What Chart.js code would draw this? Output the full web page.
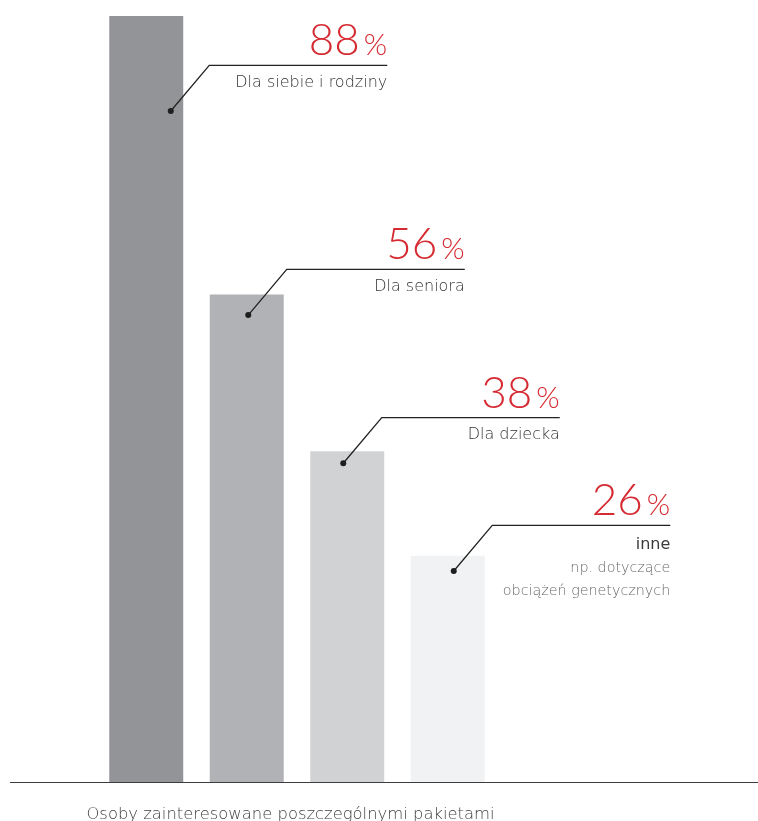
<!DOCTYPE html>
<html>
<head>
<meta charset="utf-8">
<script src="https://cdn.jsdelivr.net/npm/chart.js@4/dist/chart.umd.min.js"></script>
<style>
  html, body { margin: 0; padding: 0; background: #fff; }
</style>
</head>
<body>
<canvas id="chart" width="758" height="821"></canvas>
<script>
// Package interest, percent of respondents
const categories = ['Dla siebie i rodziny', 'Dla seniora', 'Dla dziecka', 'inne'];
const shares = [88, 56, 38, 26];
const notes = [[], [], [], ['np. dotyczące', 'obciążeń genetycznych']];
const axisTitle = 'Osoby zainteresowane poszczególnymi pakietami';

const barColors = ['#939497', '#b1b2b5', '#d1d2d4', '#f1f2f3'];
// where each callout dot sits relative to the top centre of its bar (px)
const calloutDot = [{ dx: 24.5, dy: 95 }, { dx: 1.5, dy: 20.5 }, { dx: -4, dy: 12 }, { dx: 6, dy: 15.3 }];

const TEXT_FONT = '"DejaVu Sans"';
const NUM_FONT = 'Lato';

const baseline = {
  id: 'baseline',
  afterDatasetsDraw(chart) {
    const { ctx } = chart;
    const y = Math.round(chart.scales.y.getPixelForValue(0)) + 0.5;
    ctx.save();
    ctx.strokeStyle = '#3c3c3c';
    ctx.lineWidth = 1.2;
    ctx.beginPath();
    ctx.moveTo(10, y);
    ctx.lineTo(chart.width, y);
    ctx.stroke();
    // axis caption under the baseline
    ctx.font = `200 16.4px ${TEXT_FONT}`;
    ctx.fillStyle = '#3f3f3f';
    ctx.textAlign = 'center';
    ctx.textBaseline = 'alphabetic';
    ctx.fillText(axisTitle, 290.5, y + 36);
    ctx.restore();
  }
};

const callouts = {
  id: 'callouts',
  afterDatasetsDraw(chart) {
    const { ctx } = chart;
    const meta = chart.getDatasetMeta(0);
    meta.data.forEach((bar, i) => {
      const off = calloutDot[i];
      const x0 = bar.x + off.dx, y0 = bar.y + off.dy;
      const x1 = x0 + 38.5, y1 = y0 - 45.7;
      const x2 = x1 + 178;
      ctx.save();
      ctx.strokeStyle = '#222222';
      ctx.lineWidth = 1.3;
      ctx.beginPath();
      ctx.moveTo(x0, y0);
      ctx.lineTo(x1, y1);
      ctx.lineTo(x2, y1);
      ctx.stroke();
      ctx.fillStyle = '#1e1e1e';
      ctx.beginPath();
      ctx.arc(x0, y0, 3, 0, Math.PI * 2);
      ctx.fill();

      // value: large digits plus a smaller percent sign
      ctx.fillStyle = '#d52a31';
      ctx.textBaseline = 'alphabetic';
      ctx.textAlign = 'right';
      ctx.font = `300 30px ${NUM_FONT}`;
      ctx.fillText('%', x2, y1 - 10);
      const pw = ctx.measureText('%').width;
      ctx.font = `300 44px ${NUM_FONT}`;
      ctx.fillText(String(shares[i]), x2 - pw - 4, y1 - 10);

      // category label and optional notes
      const hasNotes = notes[i].length > 0;
      ctx.font = `${hasNotes ? 400 : 200} 16px ${TEXT_FONT}`;
      ctx.fillStyle = hasNotes ? '#3a3a3a' : '#333333';
      ctx.fillText(categories[i], x2, y1 + (hasNotes ? 23.3 : 21.5));
      ctx.font = `200 14.3px ${TEXT_FONT}`;
      ctx.fillStyle = '#6a6a6a';
      notes[i].forEach((t, k) => ctx.fillText(t, x2, y1 + 46.7 + k * 23.3));
      ctx.restore();
    });
  }
};

new Chart(document.getElementById('chart'), {
  type: 'bar',
  data: {
    labels: categories,
    datasets: [{
      data: shares,
      backgroundColor: barColors,
      borderWidth: 0,
      barPercentage: 0.736,
      categoryPercentage: 1
    }]
  },
  options: {
    responsive: false,
    animation: false,
    events: [],
    layout: { padding: { left: 96, right: 260, top: 16, bottom: 39 } },
    plugins: { legend: { display: false }, tooltip: { enabled: false } },
    scales: {
      y: { display: false, min: 0, max: 88 },
      x: { display: false }
    }
  },
  plugins: [baseline, callouts]
});
</script>
</body>
</html>
